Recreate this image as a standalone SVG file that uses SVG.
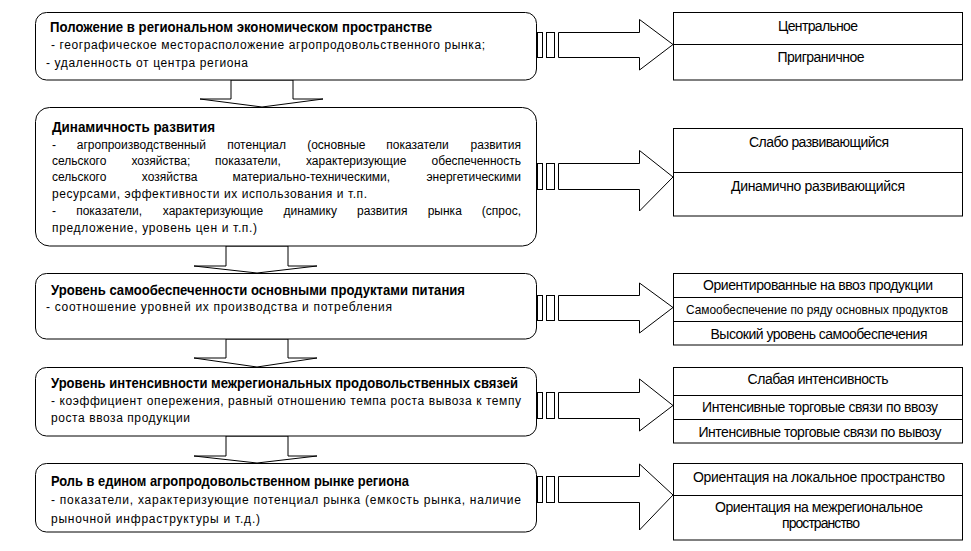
<svg xmlns="http://www.w3.org/2000/svg" width="971" height="551" viewBox="0 0 971 551">
<style>
.lb{fill:#fff;stroke:#000;stroke-width:1}
.rb{fill:#fff;stroke:#000;stroke-width:1}
.ln{stroke:#000;stroke-width:1;fill:none}
.ar{fill:#fff;stroke:#000;stroke-width:1}
text{font-family:"Liberation Sans",Arial,sans-serif;font-size:12px;fill:#000}
.t{font-weight:bold;font-size:14px}
.r{font-size:14px;text-anchor:middle}
.e{text-anchor:end}
</style>
<rect width="971" height="551" fill="#fff"/>
<g id="connectors">
<polygon class="ar" points="231,80 231,99 200,99 262,107 323,99 293,99 293,80"/>
<polygon class="ar" points="226,246 226,266 194,266 257,273 317,266 288,266 288,246"/>
<polygon class="ar" points="226,339 226,358 194,358 257,367 317,358 288,358 288,339"/>
<polygon class="ar" points="226,436 226,456 194,456 257,463 317,456 288,456 288,436"/>
<g>
<rect class="ar" x="537.5" y="32.5" width="5" height="25"/>
<rect class="ar" x="546.5" y="32.5" width="8" height="25"/>
<polygon class="ar" points="558.5,32.5 639.5,32.5 639.5,19.5 673,44.5 639.5,70 639.5,57.5 558.5,57.5"/>
</g>
<g>
<rect class="ar" x="537.5" y="163.5" width="5" height="26"/>
<rect class="ar" x="546.5" y="163.5" width="8" height="26"/>
<polygon class="ar" points="558.5,163.5 639.5,163.5 639.5,150.5 673,177 639.5,211 639.5,189.5 558.5,189.5"/>
</g>
<g>
<rect class="ar" x="537.5" y="295.5" width="5" height="25"/>
<rect class="ar" x="546.5" y="295.5" width="8" height="25"/>
<polygon class="ar" points="558.5,295.5 639.5,295.5 639.5,283 673,307.5 639.5,333 639.5,320.5 558.5,320.5"/>
</g>
<g>
<rect class="ar" x="537.5" y="392.5" width="5" height="26"/>
<rect class="ar" x="546.5" y="392.5" width="8" height="26"/>
<polygon class="ar" points="558.5,392.5 639.5,392.5 639.5,379 673,405.5 639.5,431 639.5,418.5 558.5,418.5"/>
</g>
<g>
<rect class="ar" x="537.5" y="476.5" width="5" height="26"/>
<rect class="ar" x="546.5" y="476.5" width="8" height="26"/>
<polygon class="ar" points="558.5,476.5 639.5,476.5 639.5,464 673,495 639.5,530 639.5,502.5 558.5,502.5"/>
</g>
</g>
<g id="node1">
<rect class="lb" x="35.5" y="12.5" width="501" height="67.5" rx="11" ry="11"/>
<text class="t" x="50" y="32" textLength="382" lengthAdjust="spacingAndGlyphs">Положение в региональном экономическом пространстве</text>
<text x="51" y="49" textLength="434" lengthAdjust="spacing">- географическое месторасположение агропродовольственного рынка;</text>
<text x="46" y="67" textLength="202" lengthAdjust="spacing">- удаленность от центра региона</text>
</g>
<g id="node2">
<rect class="lb" x="35.5" y="107.5" width="501" height="138.5" rx="14" ry="14"/>
<text class="t" x="52" y="132" textLength="163" lengthAdjust="spacingAndGlyphs">Динамичность развития</text>
<text y="149"><tspan x="52">-</tspan><tspan x="76.8">агропроизводственный</tspan><tspan x="227.2">потенциал</tspan><tspan x="307.2">(основные</tspan><tspan x="386.3">показатели</tspan><tspan x="521" class="e">развития</tspan></text>
<text y="165"><tspan x="52">сельского</tspan><tspan x="131.4">хозяйства;</tspan><tspan x="215.1">показатели,</tspan><tspan x="306">характеризующие</tspan><tspan x="521" class="e">обеспеченность</tspan></text>
<text y="181"><tspan x="52">сельского</tspan><tspan x="141.8">хозяйства</tspan><tspan x="232.6">материально-техническими,</tspan><tspan x="521" class="e">энергетическими</tspan></text>
<text x="52" y="198" textLength="315" lengthAdjust="spacing">ресурсами, эффективности их использования и т.п.</text>
<text y="215"><tspan x="52">-</tspan><tspan x="76.2">показатели,</tspan><tspan x="162.8">характеризующие</tspan><tspan x="283.6">динамику</tspan><tspan x="357">развития</tspan><tspan x="427.7">рынка</tspan><tspan x="521" class="e">(спрос,</tspan></text>
<text x="52" y="232" textLength="205" lengthAdjust="spacing">предложение, уровень цен и т.п.)</text>
</g>
<g id="node3">
<rect class="lb" x="35.5" y="273.5" width="501" height="65.5" rx="11" ry="11"/>
<text class="t" x="51" y="295" textLength="414" lengthAdjust="spacingAndGlyphs">Уровень самообеспеченности основными продуктами питания</text>
<text x="46" y="311" textLength="346" lengthAdjust="spacing">- соотношение уровней их производства и потребления</text>
</g>
<g id="node4">
<rect class="lb" x="35.5" y="367.5" width="501" height="68.5" rx="11" ry="11"/>
<text class="t" x="51" y="388" textLength="467" lengthAdjust="spacingAndGlyphs">Уровень интенсивности межрегиональных продовольственных связей</text>
<text x="51" y="405" textLength="470" lengthAdjust="spacing">- коэффициент опережения, равный отношению темпа роста вывоза к темпу</text>
<text x="51" y="422" textLength="139" lengthAdjust="spacing">роста ввоза продукции</text>
</g>
<g id="node5">
<rect class="lb" x="35.5" y="463.5" width="501" height="68.5" rx="11" ry="11"/>
<text class="t" x="51" y="486" textLength="358" lengthAdjust="spacingAndGlyphs">Роль в едином агропродовольственном рынке региона</text>
<text x="51" y="504" textLength="470" lengthAdjust="spacing">- показатели, характеризующие потенциал рынка (емкость рынка, наличие</text>
<text x="51" y="523" textLength="209" lengthAdjust="spacing">рыночной инфраструктуры и т.д.)</text>
</g>
<g id="result1">
<rect class="rb" x="673.5" y="12.5" width="289" height="67.5"/>
<line class="ln" x1="673.5" y1="44.5" x2="962.5" y2="44.5"/>
<text class="r" x="818" y="31" textLength="80" lengthAdjust="spacing">Центральное</text>
<text class="r" x="821" y="62" textLength="87" lengthAdjust="spacing">Приграничное</text>
</g>
<g id="result2">
<rect class="rb" x="673.5" y="128.5" width="289" height="87.5"/>
<line class="ln" x1="673.5" y1="172.5" x2="962.5" y2="172.5"/>
<text class="r" x="819" y="147" textLength="140" lengthAdjust="spacing">Слабо развивающийся</text>
<text class="r" x="818" y="191" textLength="174" lengthAdjust="spacing">Динамично развивающийся</text>
</g>
<g id="result3">
<rect class="rb" x="673.5" y="273.5" width="289" height="71.5"/>
<line class="ln" x1="673.5" y1="297.5" x2="962.5" y2="297.5"/>
<line class="ln" x1="673.5" y1="321.5" x2="962.5" y2="321.5"/>
<text class="r" x="818" y="290" textLength="230" lengthAdjust="spacing">Ориентированные на ввоз продукции</text>
<text class="r" x="817" y="314" textLength="262" lengthAdjust="spacingAndGlyphs" style="font-size:13px">Самообеспечение по ряду основных продуктов</text>
<text class="r" x="819" y="339" textLength="217" lengthAdjust="spacing">Высокий уровень самообеспечения</text>
</g>
<g id="result4">
<rect class="rb" x="673.5" y="367.5" width="289" height="75.5"/>
<line class="ln" x1="673.5" y1="395.5" x2="962.5" y2="395.5"/>
<line class="ln" x1="673.5" y1="419.5" x2="962.5" y2="419.5"/>
<text class="r" x="818" y="384" textLength="141" lengthAdjust="spacing">Слабая интенсивность</text>
<text class="r" x="820" y="412" textLength="236" lengthAdjust="spacing">Интенсивные торговые связи по ввозу</text>
<text class="r" x="820" y="437" textLength="243" lengthAdjust="spacing">Интенсивные торговые связи по вывозу</text>
</g>
<g id="result5">
<rect class="rb" x="673.5" y="463.5" width="289" height="76.5"/>
<line class="ln" x1="673.5" y1="495.5" x2="962.5" y2="495.5"/>
<text class="r" x="819" y="482" textLength="252" lengthAdjust="spacing">Ориентация на локальное пространство</text>
<text class="r" x="819" y="512" textLength="208" lengthAdjust="spacing">Ориентация на межрегиональное</text>
<text class="r" x="821" y="528" textLength="78" lengthAdjust="spacing">пространство</text>
</g>
</svg>
